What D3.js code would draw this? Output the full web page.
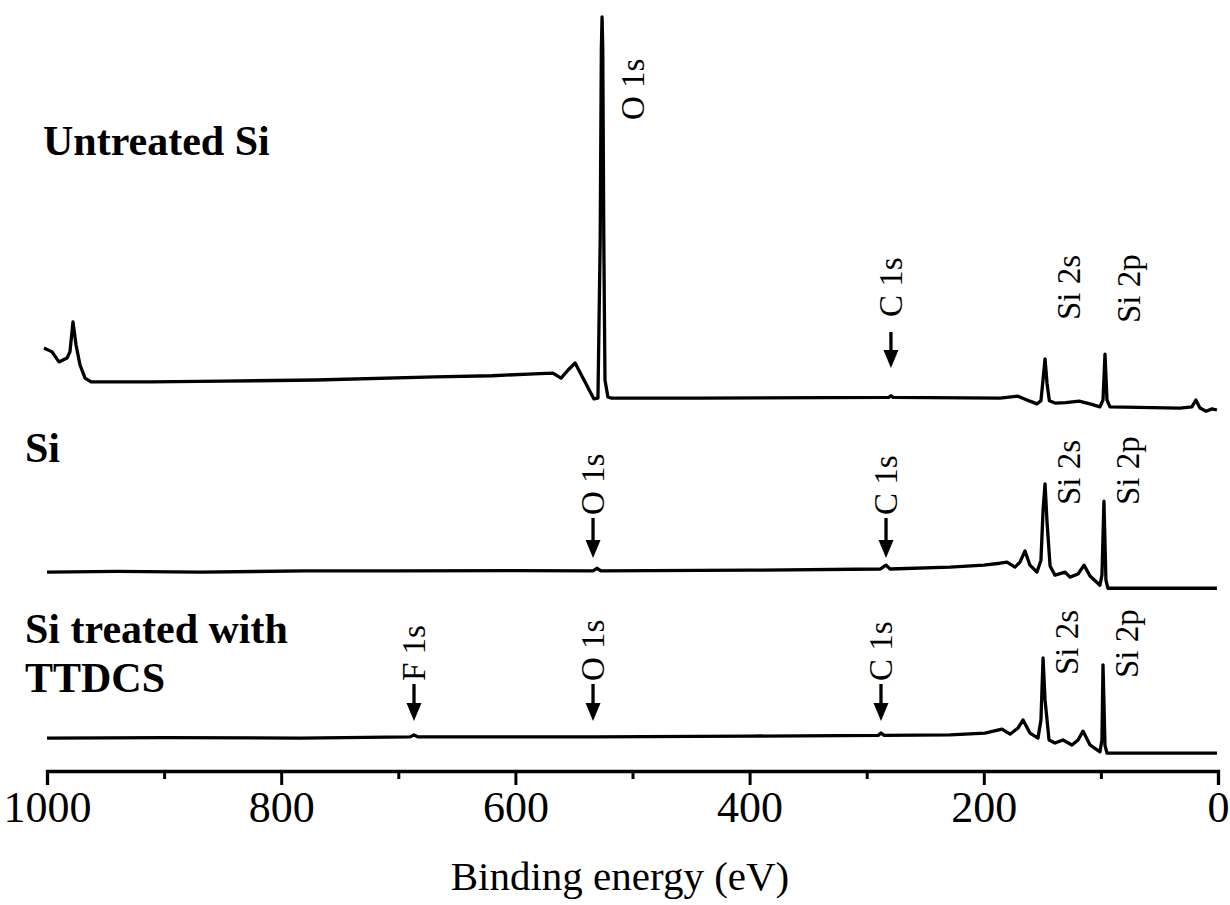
<!DOCTYPE html>
<html>
<head>
<meta charset="utf-8">
<script src="https://cdn.jsdelivr.net/npm/d3@7"></script>
<style>
  html, body { margin: 0; padding: 0; background: #fff; }
  svg { display: block; }
</style>
</head>
<body>
<svg id="chart"></svg>
<script>
// XPS survey spectra, three samples stacked with vertical offsets
// values: [binding energy (eV), intensity (a.u.)]

const sampleNames = ["Untreated Si", "Si", "Si treated with|TTDCS"];
const traceOffsets = [100, 54, 11]; // vertical stacking offset per trace (a.u.)

const untreated = [
  [1002.6, 12.2], [995.7, 11.2], [989.8, 8.6], [982.9, 9.6], [980.4, 11.2],
  [977.8, 19.0], [975.2, 13.0], [971.8, 7.8], [967.5, 4.4], [962.4, 3.4],
  [912, 3.4], [850, 3.6], [770, 3.9], [668.7, 4.7], [620, 5.0], [584, 5.5],
  [568, 5.7], [561, 4.4], [555, 6.5], [549, 8.3], [545, 6.0], [541.4, 3.9],
  [537, 1.3], [533, -1.0], [529.5, -0.8], [527.6, 40], [526.6, 90], [526, 98.2],
  [525.4, 90], [524.5, 40], [523.5, 3.9], [521, -0.5], [518.4, -0.8],
  [442.4, -0.8], [281, -0.6], [279.3, -0.2], [277.5, -0.6], [186, -0.8],
  [170.8, -0.3], [160.6, -1.6], [154.6, -2.3], [151.2, -1.5], [149.4, 4],
  [147.7, 9.4], [146, 3], [144, -1.5], [139.2, -2.1], [130, -2.0],
  [118.7, -1.6], [109.3, -2.3], [100.8, -3.1], [98.2, -1.3], [96.5, 10.6],
  [94.8, -1.3], [92.3, -3.1], [32.5, -3.4], [22.3, -3.1], [18.9, -1.3],
  [15.4, -3.4], [10.2, -4.2], [5.1, -3.6], [0.9, -3.9],
];

const siBare = [
  [1000, 0], [940, 0.2], [869, 0], [780, 0.3], [698.5, 0.3], [600, 0.4],
  [533.7, 0.3], [530.3, 1.0], [527, 0.3], [399.7, 0.5], [288.6, 0.8],
  [283.5, 1.8], [280, 0.8], [228.9, 1.3], [200, 1.8], [186.2, 2.3],
  [180.2, 2.6], [173.4, 1.3], [169.1, 2.6], [164.8, 5.5], [160.6, 1.8],
  [154.6, 0], [151.2, 3.1], [149.4, 16], [147.7, 22.9], [146, 13],
  [143.4, 1.6], [139.2, -0.8], [130.6, 0], [126.4, -1.3], [119.5, -0.5],
  [114.4, 1.8], [109.3, -1.0], [100.8, -3.4], [99.1, -0.8], [97.4, 18.4],
  [95.7, -2.1], [94, -4.2], [0.9, -4.2],
];

const siTtdcs = [
  [1000, -0.1], [900, 0], [784, -0.1], [690, 0.2], [686.6, 0.7], [683, 0.2],
  [600, 0.2], [533.7, 0.2], [400, 0.4], [290, 0.6], [287.8, 1.2], [285, 0.6],
  [228.9, 0.7], [199, 1.2], [184.5, 2.2], [177.6, 0.9], [170.8, 2.5],
  [166.5, 4.6], [160.6, 1.2], [153.7, -0.1], [151.2, 4.6], [149.4, 20.7],
  [147.7, 9.8], [144.3, -0.6], [139.2, -1.4], [132.4, -0.6], [124.7, -1.9],
  [119.5, -0.6], [115.3, 1.7], [109.3, -1.9], [100.8, -3.7], [99.1, -0.6],
  [98.2, 18.9], [96.5, -2.0], [94.8, -4.0], [0.9, -4.0],
];

const traces = [untreated, siBare, siTtdcs];

// peak labels: trace index, energy, text, with/without arrow
const peakLabels = [
  { trace: 0, eV: 526, text: "O 1s", arrow: false },
  { trace: 0, eV: 279.3, text: "C 1s", arrow: true },
  { trace: 0, eV: 147.7, text: "Si 2s", arrow: false },
  { trace: 0, eV: 96.5, text: "Si 2p", arrow: false },
  { trace: 1, eV: 533.7, text: "O 1s", arrow: true },
  { trace: 1, eV: 283.5, text: "C 1s", arrow: true },
  { trace: 1, eV: 147.7, text: "Si 2s", arrow: false },
  { trace: 1, eV: 97.4, text: "Si 2p", arrow: false },
  { trace: 2, eV: 686.6, text: "F 1s", arrow: true },
  { trace: 2, eV: 533.7, text: "O 1s", arrow: true },
  { trace: 2, eV: 287.8, text: "C 1s", arrow: true },
  { trace: 2, eV: 149.4, text: "Si 2s", arrow: false },
  { trace: 2, eV: 98.2, text: "Si 2p", arrow: false },
];

const xTicks = [1000, 900, 800, 700, 600, 500, 400, 300, 200, 100, 0];
const xTitle = "Binding energy (eV)";

// ---- layout ----
const W = 1230;
const H = 905;
const axisY = 771;
const SERIF = '"Liberation Serif", "Times New Roman", Times, serif';

// per-trace label geometry (pixels)
const rowLayout = [
  { arrowTip: 368, arrowLen: 36, textGap: 15, sideBottom: [120, null, 320, 323] },
  { arrowTip: 558, arrowLen: 40, textGap: 3, sideBottom: [null, null, 505, 505] },
  { arrowTip: 721, arrowLen: 37, textGap: 3, sideBottom: [null, null, null, 675, 678] },
];
const sampleLabelPos = [
  { x: 43, y: 155 },
  { x: 25, y: 462 },
  { x: 25, y: 643 },
];

const svg = d3.select("#chart").attr("width", W).attr("height", H);
svg.append("rect").attr("width", W).attr("height", H).attr("fill", "#fff");

const x = d3.scaleLinear().domain([1000, 0]).range([47, 1218]);
const y = d3.scaleLinear().domain([0, 200]).range([780, 10]);

// traces
const line = d3
  .line()
  .x((d) => x(d[0]))
  .y((d) => y(d[1]));

traces.forEach((tr, i) => {
  const off = traceOffsets[i];
  svg
    .append("path")
    .datum(tr.map((d) => [d[0], d[1] + off]))
    .attr("d", line)
    .attr("fill", "none")
    .attr("stroke", "#000")
    .attr("stroke-width", 3.3)
    .attr("stroke-linejoin", "round");
});

// x axis
const axis = d3
  .axisBottom(x)
  .tickValues(xTicks)
  .tickSizeOuter(0)
  .tickSize(14)
  .tickPadding(6)
  .tickFormat((d) => (d % 200 === 0 ? d : ""));

const axisG = svg.append("g").attr("transform", `translate(0,${axisY})`).call(axis);
axisG.select(".domain").attr("stroke", "#000").attr("stroke-width", 3.3);
axisG
  .selectAll(".tick line")
  .attr("stroke", "#000")
  .attr("stroke-width", 3)
  .attr("y2", (d) => (d % 200 === 0 ? 14 : 8));
axisG
  .selectAll(".tick text")
  .attr("fill", "#000")
  .attr("font-family", SERIF)
  .attr("font-size", 44);

svg
  .append("text")
  .attr("x", 620)
  .attr("y", 890)
  .attr("text-anchor", "middle")
  .attr("font-family", SERIF)
  .attr("font-size", 41)
  .text(xTitle);

// sample names
sampleNames.forEach((name, i) => {
  const t = svg
    .append("text")
    .attr("x", sampleLabelPos[i].x)
    .attr("y", sampleLabelPos[i].y)
    .attr("font-family", SERIF)
    .attr("font-weight", "bold")
    .attr("font-size", 42);
  name.split("|").forEach((part, k) => {
    t.append("tspan")
      .attr("x", sampleLabelPos[i].x)
      .attr("dy", k === 0 ? 0 : 49)
      .text(part);
  });
});

// peak labels (rotated, reading upward) and arrows
const rowCount = [0, 0, 0];
peakLabels.forEach((p) => {
  const lay = rowLayout[p.trace];
  const idx = rowCount[p.trace]++;
  const px = x(p.eV);
  let cx, bottom;
  if (p.arrow) {
    cx = px;
    const top = lay.arrowTip - lay.arrowLen;
    bottom = top - lay.textGap;
    svg
      .append("line")
      .attr("x1", cx)
      .attr("x2", cx)
      .attr("y1", top)
      .attr("y2", lay.arrowTip - 14)
      .attr("stroke", "#000")
      .attr("stroke-width", 3.3);
    svg
      .append("path")
      .attr(
        "d",
        `M${cx - 7.5},${lay.arrowTip - 18}L${cx + 7.5},${lay.arrowTip - 18}L${cx},${lay.arrowTip}Z`,
      )
      .attr("fill", "#000");
  } else {
    cx = px + (p.text === "O 1s" ? 31 : 24);
    bottom = lay.sideBottom[idx];
  }
  svg
    .append("text")
    .attr("transform", `translate(${cx},${bottom}) rotate(-90)`)
    .attr("dominant-baseline", "central")
    .attr("font-family", SERIF)
    .attr("font-size", 33)
    .text(p.text);
});
</script>
</body>
</html>
